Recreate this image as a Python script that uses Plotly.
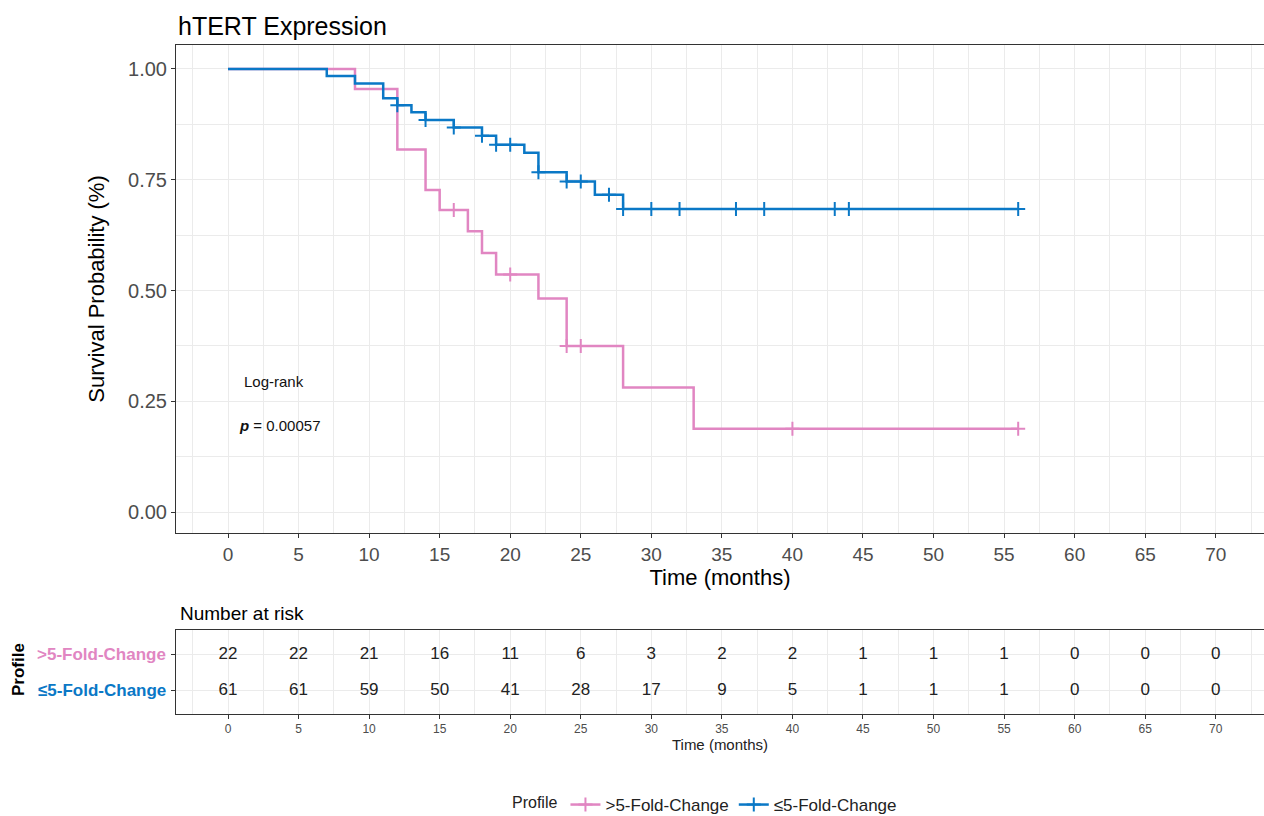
import plotly.graph_objects as go

# ---------------- data ----------------
pink_name = ">5-Fold-Change"
blue_name = "≤5-Fold-Change"

pink_times = [0, 9, 12, 14, 15, 17, 18, 19, 22, 24, 28, 33, 56]
pink_surv = [1.0, 0.955, 0.818, 0.727, 0.682, 0.634, 0.585, 0.536, 0.482, 0.375, 0.281, 0.188, 0.188]
pink_cens_t = [16, 20, 24, 25, 40, 56]
pink_cens_s = [0.682, 0.536, 0.375, 0.375, 0.188, 0.188]

blue_times = [0, 7, 9, 11, 12, 13, 14, 16, 18, 19, 21, 22, 24, 26, 28, 56]
blue_surv = [1.0, 0.984, 0.967, 0.934, 0.918, 0.902, 0.885, 0.868, 0.849, 0.829, 0.811, 0.767, 0.746, 0.716, 0.684, 0.684]
blue_cens_t = [12, 14, 16, 18, 19, 20, 22, 24, 25, 27, 28, 30, 32, 36, 38, 43, 44, 56]
blue_cens_s = [0.918, 0.885, 0.868, 0.849, 0.829, 0.829, 0.767, 0.746, 0.746, 0.716,
               0.684, 0.684, 0.684, 0.684, 0.684, 0.684, 0.684, 0.684]

risk_times = [0, 5, 10, 15, 20, 25, 30, 35, 40, 45, 50, 55, 60, 65, 70]
risk_pink = [22, 22, 21, 16, 11, 6, 3, 2, 2, 1, 1, 1, 0, 0, 0]
risk_blue = [61, 61, 59, 50, 41, 28, 17, 9, 5, 1, 1, 1, 0, 0, 0]

x_ticks = [0, 5, 10, 15, 20, 25, 30, 35, 40, 45, 50, 55, 60, 65, 70]
y_ticks = [0.0, 0.25, 0.5, 0.75, 1.0]
y_ticklabels = ["0.00", "0.25", "0.50", "0.75", "1.00"]

# ---------------- style / layout geometry ----------------
PINK = "#E186C2"
BLUE = "#0A78C6"
FONT = "Liberation Sans, Arial, sans-serif"
GRID = "#EBEBEB"
W, H = 1264, 816
L, R, T, B = 176, 0, 45, 102          # plot area margins (px)
PW, PH = W - L - R, H - T - B


def px_x(px):
    return (px - L) / PW


def px_y(py):
    return (H - B - py) / PH


fig = go.Figure()

for name, t, s, ct, cs, col in [
    (pink_name, pink_times, pink_surv, pink_cens_t, pink_cens_s, PINK),
    (blue_name, blue_times, blue_surv, blue_cens_t, blue_cens_s, BLUE),
]:
    fig.add_trace(go.Scatter(x=t, y=s, mode="lines", line=dict(color=col, width=2.5, shape="hv"),
                             showlegend=False, hoverinfo="skip", xaxis="x", yaxis="y"))
    fig.add_trace(go.Scatter(x=ct, y=cs, mode="markers",
                             marker=dict(symbol="cross-thin", size=10, color=col, line=dict(width=2, color=col)),
                             showlegend=False, hoverinfo="skip", xaxis="x", yaxis="y"))
    fig.add_trace(go.Scatter(x=[None], y=[None], mode="lines+markers", name=name,
                             line=dict(color=col, width=2.5),
                             marker=dict(symbol="cross-thin", size=10, color=col, line=dict(width=2, color=col)),
                             xaxis="x", yaxis="y"))

# risk table
fig.add_trace(go.Scatter(x=risk_times, y=[1] * len(risk_times), mode="text",
                         text=[str(v) for v in risk_pink], textfont=dict(size=17, color="#222222", family=FONT),
                         showlegend=False, hoverinfo="skip", xaxis="x2", yaxis="y2"))
fig.add_trace(go.Scatter(x=risk_times, y=[0] * len(risk_times), mode="text",
                         text=[str(v) for v in risk_blue], textfont=dict(size=17, color="#222222", family=FONT),
                         showlegend=False, hoverinfo="skip", xaxis="x2", yaxis="y2"))

xrange = [-3.685, 73.42]

common_x = dict(range=xrange, tickvals=x_ticks, showline=True, linecolor="#333333", linewidth=1, mirror=True,
                ticks="outside", ticklen=4, tickcolor="#333333", showgrid=True, gridcolor=GRID, gridwidth=1.2,
                zeroline=False, domain=[0, 1],
                minor=dict(dtick=2.5, tick0=0, showgrid=True, gridcolor=GRID, gridwidth=0.7, ticks=""))

fig.update_layout(
    width=W, height=H,
    margin=dict(l=L, r=R, t=T, b=B, autoexpand=False),
    paper_bgcolor="white", plot_bgcolor="white",
    font=dict(family=FONT, color="#000000"),
    title=dict(text="hTERT Expression", x=178 / W, xanchor="left", y=1 - 26 / H, yanchor="middle",
               font=dict(size=25, color="#000000", family=FONT)),
    xaxis=dict(**common_x, anchor="y",
               tickfont=dict(size=19, color="#4D4D4D"),
               title=dict(text="Time (months)", font=dict(size=22, color="#000000"), standoff=4)),
    yaxis=dict(range=[-0.047, 1.054], tickvals=y_ticks, ticktext=y_ticklabels, domain=[px_y(533), 1],
               showline=True, linecolor="#333333", linewidth=1, mirror=True, ticks="outside", ticklen=4,
               tickcolor="#333333", showgrid=True, gridcolor=GRID, gridwidth=1.2, zeroline=False,
               tickfont=dict(size=20, color="#4D4D4D"), anchor="x",
               minor=dict(dtick=0.125, tick0=0, showgrid=True, gridcolor=GRID, gridwidth=0.7, ticks=""),
               title=dict(text="Survival Probability (%)", font=dict(size=22, color="#000000"), standoff=17)),
    xaxis2=dict(**common_x, anchor="y2",
                tickfont=dict(size=12, color="#4D4D4D"),
                title=dict(text="Time (months)", font=dict(size=15, color="#222222"), standoff=2)),
    yaxis2=dict(range=[-0.64, 1.69], tickvals=[0, 1], showticklabels=False, domain=[0, px_y(630)],
                showline=True, linecolor="#333333", linewidth=1, mirror=True, ticks="outside", ticklen=4,
                tickcolor="#333333", showgrid=True, gridcolor=GRID, gridwidth=1.2, zeroline=False, anchor="x2"),
    legend=dict(orientation="h", x=px_x(706), xanchor="center", y=px_y(805), yanchor="middle",
                title=dict(text="Profile", font=dict(size=16, color="#222222"), side="left"),
                font=dict(size=17, color="#222222"), itemwidth=30, bgcolor="rgba(0,0,0,0)"),
    showlegend=True,
)

annotations = [
    dict(text="Log-rank", x=px_x(242), y=px_y(381), xref="paper", yref="paper", xanchor="left", yanchor="middle",
         showarrow=False, font=dict(size=15, color="#111111")),
    dict(text="<b><i>p</i></b> = 0.00057", x=px_x(237), y=px_y(425), xref="paper", yref="paper",
         xanchor="left", yanchor="middle", showarrow=False, font=dict(size=15, color="#111111")),
    dict(text="Number at risk", x=px_x(178), y=px_y(613), xref="paper", yref="paper", xanchor="left",
         yanchor="middle", showarrow=False, font=dict(size=19, color="#000000")),
    dict(text="<b>" + pink_name + "</b>", x=px_x(168), y=1, xref="paper", yref="y2", xanchor="right",
         yanchor="middle", showarrow=False, font=dict(size=17, color=PINK)),
    dict(text="<b>" + blue_name + "</b>", x=px_x(168), y=0, xref="paper", yref="y2", xanchor="right",
         yanchor="middle", showarrow=False, font=dict(size=17, color=BLUE)),
    dict(text="<b>Profile</b>", x=px_x(18), y=px_y(670), xref="paper", yref="paper", xanchor="center",
         yanchor="middle", textangle=-90, showarrow=False, font=dict(size=17, color="#000000")),
]
fig.update_layout(annotations=annotations)

fig.write_html("out.html", config={"displayModeBar": False},
               post_script="document.body.style.margin='0';document.body.style.overflow='hidden';")
